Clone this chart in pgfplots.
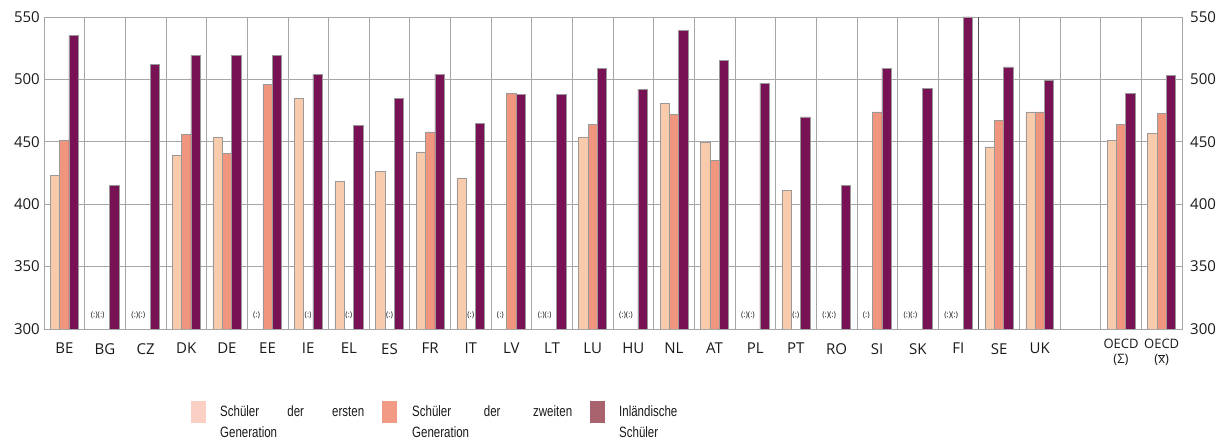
\documentclass[border=0pt]{standalone}
\usepackage{fontspec}
\setmainfont{Open Sans}
\newfontfamily\arial{Liberation Sans}
\usepackage{graphicx}
\usepackage{pgfplots}
\pgfplotsset{compat=1.18}
\definecolor{cfirst}{HTML}{F8CBAD}
\definecolor{csecond}{HTML}{F0967F}
\definecolor{cthird}{HTML}{781255}
\definecolor{lfirst}{HTML}{FAD0C4}
\definecolor{lsecond}{HTML}{F29A86}
\definecolor{lthird}{HTML}{A8636F}
\definecolor{gridgray}{HTML}{A6A6A6}
\definecolor{txt}{HTML}{1A1A1A}
\begin{document}
\begin{tikzpicture}
\useasboundingbox (0,0) rectangle (1229pt,441pt);
\begin{axis}[
  at={(44pt,112pt)}, anchor=south west,
  scale only axis, width=1138pt, height=312pt,
  xmin=-0.5, xmax=27.5, ymin=300, ymax=550,
  ybar=0pt, bar width=9.3pt,
  ytick={300,350,...,550},
  xtick={0,...,24},
  xticklabels={BE,BG,CZ,DK,DE,EE,IE,EL,ES,FR,IT,LV,LT,LU,HU,NL,AT,PL,PT,RO,SI,SK,FI,SE,UK},
  extra x ticks={26,27},
  extra x tick labels={OECD\\(Σ),OECD\\($\overline{\mbox{x}}$)},
  extra x tick style={grid=none, xticklabel style={font=\fontsize{13}{15}\selectfont, align=center, anchor=north, inner sep=0pt, yshift=4pt}},
  minor xtick={0.5,1.5,...,26.5},
  xminorgrids=true, ymajorgrids=true, xmajorgrids=false,
  grid style={gridgray, line width=0.6pt},
  minor grid style={gridgray, line width=0.6pt},
  axis line style={gridgray, line width=0.6pt},
  major tick length=0pt, minor tick length=0pt,
  tick label style={txt, font=\fontsize{15}{18}\selectfont},
  xticklabel style={anchor=north, inner sep=0pt, yshift=-14pt},
  yticklabel style={anchor=east, inner sep=0pt, xshift=-4pt},
  /pgf/number format/assume math mode=true,
]
\draw[black!65, line width=0.8pt] (axis cs:22.5,300) -- (axis cs:22.5,550);
\addplot[fill=cfirst, draw=gray!80, line width=0.5pt] coordinates {(0,423)(3,439)(4,454)(6,485)(7,418)(8,426)(9,442)(10,421)(13,454)(15,481)(16,450)(18,411)(23,446)(24,474)(26,451)(27,457)};
\addplot[fill=csecond, draw=gray!80, line width=0.5pt] coordinates {(0,451)(3,456)(4,441)(5,496)(9,458)(11,489)(13,464)(15,472)(16,435)(20,474)(23,467)(24,474)(26,464)(27,473)};
\addplot[fill=cthird, draw=gray!80, line width=0.5pt] coordinates {(0,535)(1,415)(2,512)(3,519)(4,519)(5,519)(6,504)(7,463)(8,485)(9,504)(10,465)(11,488)(12,488)(13,509)(14,492)(15,539)(16,515)(17,497)(18,470)(19,415)(20,509)(21,493)(22,550)(23,510)(24,499)(26,489)(27,503)};
% missing-value markers
\begin{scope}[every node/.style={font=\fontsize{8}{9}\selectfont, text=txt, inner sep=0pt}]
\node at (axis cs:0.82,311) {(:)(:)};
\node at (axis cs:1.82,311) {(:)(:)};
\node at (axis cs:11.82,311) {(:)(:)};
\node at (axis cs:13.82,311) {(:)(:)};
\node at (axis cs:16.82,311) {(:)(:)};
\node at (axis cs:18.82,311) {(:)(:)};
\node at (axis cs:20.82,311) {(:)(:)};
\node at (axis cs:21.82,311) {(:)(:)};
\node at (axis cs:4.73,311) {(:)};
\node at (axis cs:10.73,311) {(:)};
\node at (axis cs:19.73,311) {(:)};
\node at (axis cs:6,311) {(:)};
\node at (axis cs:7,311) {(:)};
\node at (axis cs:8,311) {(:)};
\node at (axis cs:10,311) {(:)};
\node at (axis cs:18,311) {(:)};
\end{scope}
\end{axis}
\begin{axis}[
  at={(44pt,112pt)}, anchor=south west,
  scale only axis, width=1138pt, height=312pt,
  xmin=-0.5, xmax=27.5, ymin=300, ymax=550,
  axis x line=none, axis y line*=right,
  ytick={300,350,...,550},
  axis line style={gridgray, line width=0.6pt},
  major tick length=0pt,
  tick label style={txt, font=\fontsize{15}{18}\selectfont},
  yticklabel style={anchor=west, inner sep=0pt, xshift=8pt},
  /pgf/number format/assume math mode=true,
]
\addplot[draw=none] coordinates {(0,300)};
\end{axis}
% legend
\fill[lfirst] (191pt,18pt) rectangle (205.7pt,40.3pt);
\fill[lsecond] (382pt,18pt) rectangle (397pt,40.3pt);
\fill[lthird] (590pt,18pt) rectangle (605pt,40.3pt);
\begin{scope}[every node/.style={anchor=base west, inner sep=0pt, text=txt}]
\node at (220pt,24pt) {\scalebox{1}[1.3]{\parbox[t]{144pt}{\arial\fontsize{11.5}{15.4}\selectfont Schüler\hfill der\hfill ersten\\Generation}}};
\node at (412pt,24pt) {\scalebox{1}[1.3]{\parbox[t]{160pt}{\arial\fontsize{11.5}{15.4}\selectfont Schüler\hfill der\hfill zweiten\\Generation}}};
\node at (619pt,24pt) {\scalebox{1}[1.3]{\parbox[t]{100pt}{\arial\fontsize{11.5}{15.4}\selectfont Inländische\\Schüler}}};
\end{scope}
\end{tikzpicture}
\end{document}
